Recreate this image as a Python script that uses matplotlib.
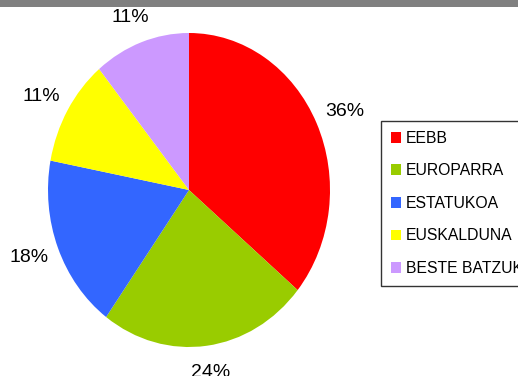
import numpy as np
import matplotlib.pyplot as plt
from matplotlib.patches import Rectangle, Patch

plt.rcParams['font.family'] = ['Liberation Sans', 'DejaVu Sans']

# shares by group
labels = ['EEBB', 'EUROPARRA', 'ESTATUKOA', 'EUSKALDUNA', 'BESTE BATZUK']
shares = [36, 24, 18, 11, 11]
colors = ['#FF0000', '#99CC00', '#3366FF', '#FFFF00', '#CC99FF']

W, H = 518, 376
fig = plt.figure(figsize=(W / 100, H / 100), dpi=100)

# grey strip along the top edge
fig.patches.append(Rectangle((0, 1 - 7 / H), 1, 7 / H, transform=fig.transFigure,
                             facecolor='#808080', edgecolor='none'))

# pie is stretched vertically, so the axes box is taller than wide
ax = fig.add_axes([48 / W, (H - 347) / H, 282 / W, 314 / H])
wedges, texts, autotexts = ax.pie(shares, colors=colors, startangle=90, counterclock=False,
                                  autopct='%.0f%%', pctdistance=1.0,
                                  wedgeprops=dict(linewidth=0),
                                  textprops=dict(fontsize=14, color='black'))
ax.set_aspect('auto')
ax.set_xlim(-1, 1)
ax.set_ylim(-1, 1)

# push percentage labels out past the rim (wider sideways than up/down)
for t in autotexts:
    x, y = t.get_position()
    t.set_position((x * 1.22, y * 1.17))
    t.set_clip_on(False)

handles = [Patch(facecolor=c, edgecolor='none') for c in colors]
leg = fig.legend(handles, labels, loc='upper left', bbox_to_anchor=(381 / W, 1 - 121 / H),
                 fontsize=11.3, frameon=True, fancybox=False, borderaxespad=0,
                 handlelength=0.68, handleheight=0.68, handletextpad=0.3,
                 labelspacing=1.12, borderpad=0.62)
leg.get_frame().set_edgecolor('black')
leg.get_frame().set_linewidth(1.0)

fig.savefig('out.png', dpi=100)
